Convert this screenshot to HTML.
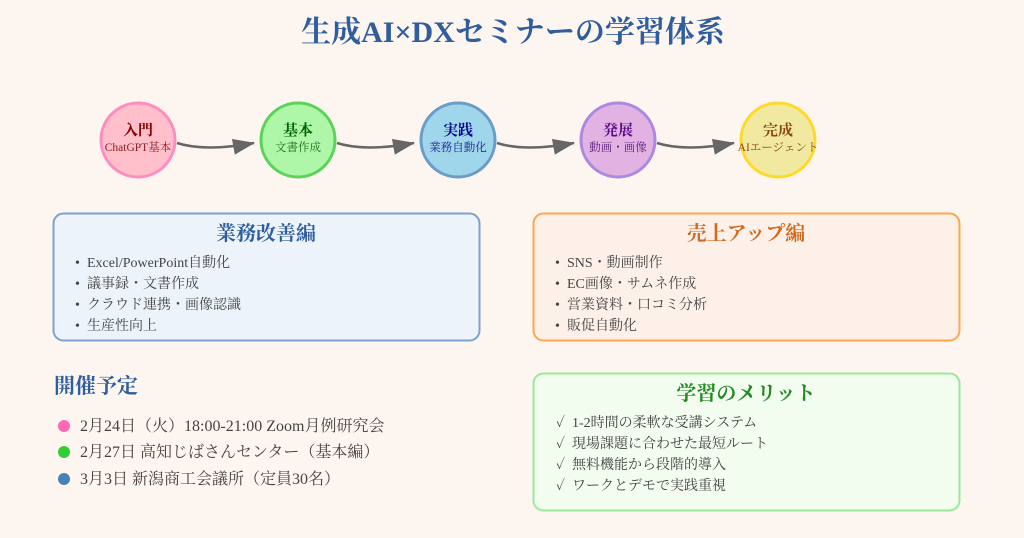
<!DOCTYPE html>
<html><head><meta charset="utf-8"><style>
html,body{margin:0;padding:0;background:#fdf6f0;}
svg text{font-family:"Liberation Serif","Noto Serif CJK SC",serif;}
</style></head><body>
<svg width="1024" height="533" viewBox="0 0 1024 533" xmlns="http://www.w3.org/2000/svg">
<rect width="1024" height="533" fill="#fdf6f0"/>
<text x="513" y="42" text-anchor="middle" font-size="30" font-weight="bold" fill="#2f5d9e">生成AI×DXセミナーの学習体系</text>
<defs>
<marker id="a2" viewBox="0 0 22 16" markerWidth="22" markerHeight="16" refX="21" refY="8" orient="auto" markerUnits="userSpaceOnUse"><path d="M0,0 L22,8 L0,16 Z" fill="#666"/></marker></defs>
<g stroke="#666" stroke-width="2.5" fill="none">
<path d="M177,143 Q205,152 254,143" marker-end="url(#a2)"/>
<path d="M337,143 Q365,152 414,143" marker-end="url(#a2)"/>
<path d="M497,143 Q525,152 574,143" marker-end="url(#a2)"/>
<path d="M657,143 Q685,152 734,143" marker-end="url(#a2)"/>
</g>
<circle cx="138" cy="140" r="37" fill="#ffc0cb" stroke="#ff8cc0" stroke-width="3"/>
<circle cx="298" cy="140" r="37" fill="#aef7a8" stroke="#5ad35a" stroke-width="3"/>
<circle cx="458" cy="140" r="37" fill="#a0d6ec" stroke="#6a9cc8" stroke-width="3"/>
<circle cx="618" cy="140" r="37" fill="#e2b2e2" stroke="#a98ae0" stroke-width="3"/>
<circle cx="778" cy="140" r="37" fill="#f2e9a0" stroke="#ffd92a" stroke-width="3"/>
<g text-anchor="middle">
<text x="138" y="135" font-size="15" font-weight="bold" fill="#8b0000">入門</text>
<text x="138" y="151" font-size="11.5" fill="#8b1a1a">ChatGPT基本</text>
<text x="298" y="135" font-size="15" font-weight="bold" fill="#006400">基本</text>
<text x="298" y="151" font-size="11.5" fill="#1d6b1d">文書作成</text>
<text x="458" y="135" font-size="15" font-weight="bold" fill="#00008b">実践</text>
<text x="458" y="151" font-size="11.5" fill="#1a1a8b">業務自動化</text>
<text x="618" y="135" font-size="15" font-weight="bold" fill="#5a0c8a">発展</text>
<text x="618" y="151" font-size="11.5" fill="#5a1a7a">動画・画像</text>
<text x="778" y="135" font-size="15" font-weight="bold" fill="#8b4513">完成</text>
<text x="778" y="151" font-size="11.5" fill="#8b4513">AIエージェント</text>
</g>
<rect x="53.5" y="213.5" width="426" height="127" rx="10" fill="#edf3fa" stroke="#7ba3cc" stroke-width="2"/>
<text x="266" y="240" text-anchor="middle" font-size="20" font-weight="bold" fill="#2f5d9e">業務改善編</text>
<g font-size="14" fill="#444">
<text x="75" y="267">•</text><text x="87" y="267">Excel/PowerPoint自動化</text>
<text x="75" y="288">•</text><text x="87" y="288">議事録・文書作成</text>
<text x="75" y="309">•</text><text x="87" y="309">クラウド連携・画像認識</text>
<text x="75" y="330">•</text><text x="87" y="330">生産性向上</text>
</g>
<rect x="533.5" y="213.5" width="426" height="127" rx="10" fill="#fdf0e8" stroke="#ffa64d" stroke-width="2"/>
<text x="746" y="240" text-anchor="middle" font-size="20" font-weight="bold" fill="#d2691e">売上アップ編</text>
<g font-size="14" fill="#444">
<text x="555" y="267">•</text><text x="567" y="267">SNS・動画制作</text>
<text x="555" y="288">•</text><text x="567" y="288">EC画像・サムネ作成</text>
<text x="555" y="309">•</text><text x="567" y="309">営業資料・口コミ分析</text>
<text x="555" y="330">•</text><text x="567" y="330">販促自動化</text>
</g>
<rect x="533.5" y="373.5" width="426" height="137" rx="10" fill="#f2fcef" stroke="#9be89b" stroke-width="2"/>
<text x="746" y="400" text-anchor="middle" font-size="20" font-weight="bold" fill="#228b22">学習のメリット</text>
<g font-size="14" fill="#444">
<text x="556" y="427">✓</text><text x="572" y="427">1-2時間の柔軟な受講システム</text>
<text x="556" y="448">✓</text><text x="572" y="448">現場課題に合わせた最短ルート</text>
<text x="556" y="469">✓</text><text x="572" y="469">無料機能から段階的導入</text>
<text x="556" y="490">✓</text><text x="572" y="490">ワークとデモで実践重視</text>
</g>
<text x="54" y="393" font-size="21" font-weight="bold" fill="#2f5d9e">開催予定</text>
<circle cx="64" cy="426" r="6" fill="#ff69b4"/>
<circle cx="64" cy="452" r="6" fill="#32cd32"/>
<circle cx="64" cy="479" r="6" fill="#4682b4"/>
<g font-size="16" fill="#444">
<text x="80" y="431">2月24日（火）18:00-21:00 Zoom月例研究会</text>
<text x="80" y="457">2月27日 高知じばさんセンター（基本編）</text>
<text x="80" y="484">3月3日 新潟商工会議所（定員30名）</text>
</g>
</svg>
</body></html>
